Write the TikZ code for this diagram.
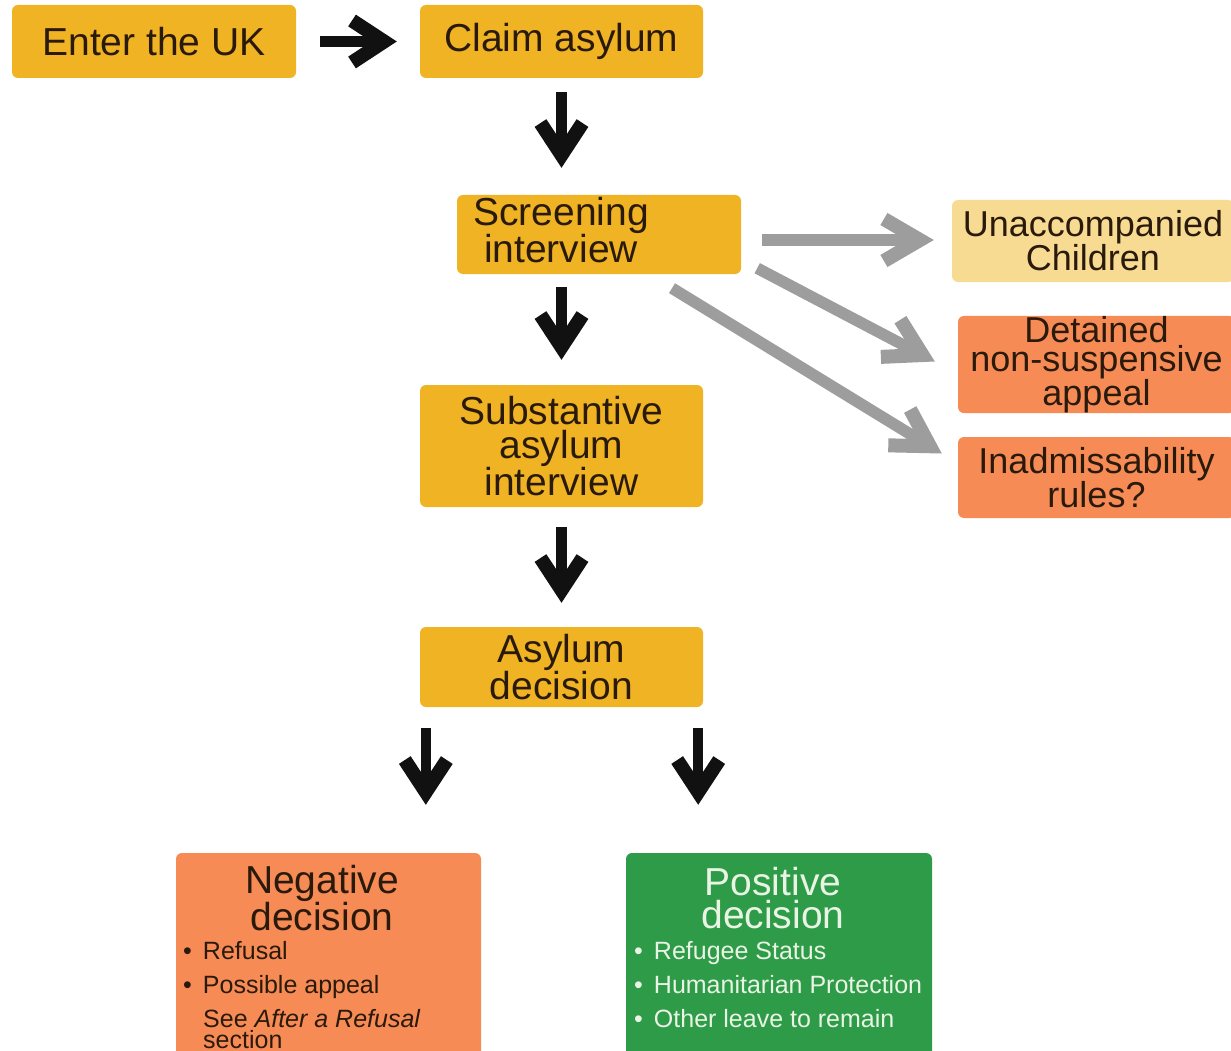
\documentclass[tikz,border=0pt]{standalone}
\usepackage{fontspec}
\setmainfont{Liberation Sans}
\usetikzlibrary{arrows.meta}
\definecolor{gold}{HTML}{F0B323}
\definecolor{orng}{HTML}{F68B55}
\definecolor{pale}{HTML}{F8DB92}
\definecolor{grn}{HTML}{2E9B48}
\definecolor{ink}{HTML}{2A1A0C}
\definecolor{lite}{HTML}{EAF4E4}
\definecolor{gry}{HTML}{9D9D9D}
\definecolor{blk}{HTML}{111111}
\begin{document}
\begin{tikzpicture}[x=1pt,y=-1pt,
  box/.style={rounded corners=6pt, inner sep=0pt, text=ink, align=center},
  mainbox/.style={box, fill=gold, font=\fontsize{39}{34}\selectfont},
  sidebox/.style={box, font=\fontsize{36}{34}\selectfont},
  txt/.style={inner sep=0pt, align=center, text=ink, font=\fontsize{39}{33}\selectfont},
  bul/.style={inner sep=0pt, anchor=base west, align=left, font=\fontsize{25}{21}\selectfont},
  blkarrow/.style={draw=blk, line width=10.5pt, -{Straight Barb[length=32pt,width=42pt,line width=14pt]}},
  gryarrow/.style={draw=gry, line width=11.5pt, -{Straight Barb[length=36pt,width=42pt,line width=14pt]}},
]
\useasboundingbox (0,0) rectangle (1231,1051);
\fill[white] (0,0) rectangle (1231,1051);

% main column
\node[mainbox, minimum width=284pt, minimum height=73pt] (enter) at (154,41.5) {Enter the UK};
\node[mainbox, minimum width=283pt, minimum height=73pt] (claim) at (561.5,41.5) {Claim asylum};
\node[mainbox, minimum width=284pt, minimum height=79pt] (screen) at (599,234.5) {};
\node[txt] (screentxt) at (561,230) {Screening\\interview};
\node[mainbox, minimum width=283pt, minimum height=122pt] (subst) at (561.5,446) {Substantive\\asylum\\interview};
\node[mainbox, minimum width=283pt, minimum height=80pt] (dec) at (561.5,667) {Asylum\\decision};

% side column
\node[sidebox, fill=pale, minimum width=282pt, minimum height=82pt] (unacc) at (1093,241) {Unaccompanied\\Children};
\node[sidebox, fill=orng, minimum width=277pt, minimum height=97pt, font=\fontsize{36}{29}\selectfont] (det) at (1096.5,364.5) {Detained\\non-suspensive\\appeal};
\node[sidebox, fill=orng, minimum width=277pt, minimum height=81pt, font=\fontsize{36}{32}\selectfont] (inad) at (1096.5,477.5) {Inadmissability\\rules?};

% outcome boxes
\node[box, fill=orng, minimum width=305pt, minimum height=212pt] (neg) at (328.5,959) {};
\node[box, fill=grn, minimum width=306pt, minimum height=212pt] (pos) at (779,959) {};
\node[txt] (negt) at (322,898) {Negative\\decision};
\node[txt, text=lite] (post) at (773,898) {Positive\\decision};

\node[bul, text=ink] (n1) at (183,959) {•\hspace{11pt}Refusal};
\node[bul, text=ink] (n2) at (183,993) {•\hspace{11pt}Possible appeal};
\node[bul, text=ink] (n3) at (203,1048) {See \textit{After a Refusal}\\section};
\node[bul, text=lite] (p1) at (634,959) {•\hspace{11pt}Refugee Status};
\node[bul, text=lite] (p2) at (634,993) {•\hspace{11pt}Humanitarian Protection};
\node[bul, text=lite] (p3) at (634,1027) {•\hspace{11pt}Other leave to remain};

% black arrows
\draw[blkarrow, shorten <=24pt, shorten >=23pt] (enter.east) -- (claim.west);
\draw[blkarrow, shorten <=14pt, shorten >=27pt] (claim.south) -- (claim.south |- screen.north);
\draw[blkarrow, shorten <=13pt, shorten >=25pt] (subst.north |- screen.south) -- (subst.north);
\draw[blkarrow, shorten <=20pt, shorten >=24pt] (subst.south) -- (dec.north);
\draw[blkarrow, shorten <=21pt, shorten >=48pt] ([xshift=6pt]dec.south west) -- ([xshift=6pt]dec.south west |- neg.north);
\draw[blkarrow, shorten <=21pt, shorten >=48pt] ([xshift=-5pt]dec.south east) -- ([xshift=-5pt]dec.south east |- pos.north);

% grey arrows
\draw[gryarrow, shorten <=21pt, shorten >=18pt] ([yshift=1pt]unacc.west -| screen.east) -- ([yshift=1pt]unacc.west);
\draw[gryarrow] ([shift={(16,-6)}]screen.south east) -- ([shift={(-23,-3)}]det.west);
\draw[gryarrow] ([shift={(73,14)}]screen.south) -- ([shift={(-16,-24)}]inad.west);
\end{tikzpicture}
\end{document}
